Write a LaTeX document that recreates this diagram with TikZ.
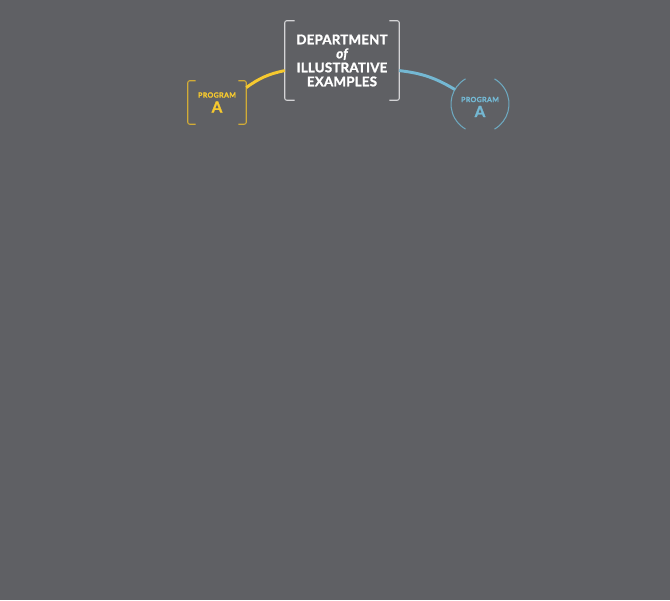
\documentclass[tikz,border=0pt]{standalone}
\usepackage{fontspec}
\setmainfont{Lato}
\newfontfamily\labfont{Lato}[LetterSpace=1.5, BoldFeatures={FakeBold=1.5}, BoldItalicFeatures={FakeBold=1.5}]
\newfontfamily\smlfont{Lato}[LetterSpace=5, BoldFeatures={FakeBold=1.5}]
\newcommand{\progsmall}{\smlfont\bfseries\fontsize{5.3}{11.25}\selectfont}
\newcommand{\progbig}{\labfont\bfseries\fontsize{11.5}{11.25}\selectfont}
\definecolor{bg}{HTML}{5F6064}
\definecolor{ylw}{HTML}{F6C92F}
\definecolor{ylwdark}{HTML}{D2AC36}
\definecolor{blu}{HTML}{74B8D3}
\definecolor{bludark}{HTML}{6DA8BF}
\definecolor{brk}{HTML}{D4D4D6}
\tikzset{
  deptbox/.style={minimum width=85.5pt, minimum height=59.25pt, inner sep=0pt,
    text=white, font=\labfont\bfseries\fontsize{10}{10.5}\selectfont, align=center},
  progbox/.style={minimum width=43.5pt, minimum height=32.25pt, inner sep=0pt, align=center,
    font=\fontsize{5.3}{11.25}\selectfont},
  progcirc/.style={minimum size=43.5pt, inner sep=0pt, align=center,
    font=\fontsize{5.3}{11.25}\selectfont},
  bracket/.style={line width=0.8pt, rounded corners=1.5pt},
  link/.style={line width=2.2pt}
}
\begin{document}
\begin{tikzpicture}[x=0.75pt,y=0.75pt]
\fill[bg] (0,0) rectangle (670,600);
\useasboundingbox (0,0) rectangle (670,600);

\node[deptbox] (dept) at (342,539.5) {DEPARTMENT\\ {\itshape of}\\ ILLUSTRATIVE\\ EXAMPLES};
\draw[bracket, brk] ([xshift=7.5pt]dept.north west) -- (dept.north west) -- (dept.south west) -- ([xshift=7.5pt]dept.south west);
\draw[bracket, brk] ([xshift=-7.5pt]dept.north east) -- (dept.north east) -- (dept.south east) -- ([xshift=-7.5pt]dept.south east);

\node[progbox, text=ylw] (pa) at (217,497.5) {{\progsmall PROGRAM}\\{\progbig A}};
\draw[bracket, ylwdark] ([xshift=6pt]pa.north west) -- (pa.north west) -- (pa.south west) -- ([xshift=6pt]pa.south west);
\draw[bracket, ylwdark] ([xshift=-6pt]pa.north east) -- (pa.north east) -- (pa.south east) -- ([xshift=-6pt]pa.south east);

\node[progcirc, text=blu] (pb) at (480,493) {{\progsmall PROGRAM}\\{\progbig A}};
\coordinate (pbc) at ([yshift=2.25pt]pb.center);
\draw[line width=0.8pt, bludark] ([shift={(120:21.75pt)}]pbc) arc[start angle=120, end angle=240, radius=21.75pt];
\draw[line width=0.8pt, bludark] ([shift={(-60:21.75pt)}]pbc) arc[start angle=-60, end angle=60, radius=21.75pt];
\coordinate (pbin) at ([shift={(150:21.75pt)}]pbc);

\draw[link, ylw] (pa.27) to[bend left=12] (dept.190);
\draw[link, blu] (dept.350) to[bend left=12] (pbin);
\end{tikzpicture}
\end{document}
